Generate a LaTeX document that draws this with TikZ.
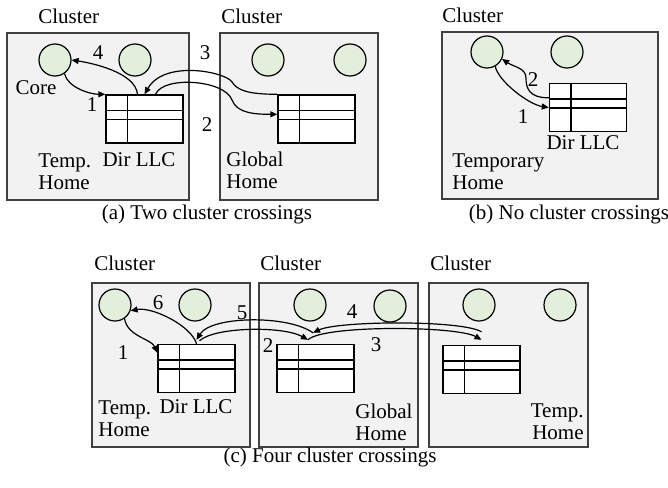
\documentclass[tikz,border=0pt]{standalone}
\usepackage{fontspec}
\setmainfont{Liberation Serif}
\usepackage{tikz}
\usetikzlibrary{positioning, arrows.meta}

\definecolor{boxfill}{HTML}{F2F2F2}
\definecolor{boxline}{HTML}{404040}
\definecolor{corefill}{HTML}{E2EFDA}

\tikzset{
  cluster/.style={draw=boxline, fill=boxfill, line width=0.6pt, inner sep=0pt},
  core/.style={circle, draw, fill=corefill, minimum size=16pt, inner sep=0pt, line width=0.6pt},
  dirbox/.style={draw, fill=white, minimum width=38.5pt, minimum height=24pt, inner sep=0pt, line width=0.7pt},
  msg/.style={-{Triangle[length=3.5pt,width=3pt]}, line width=0.6pt},
  lbl/.style={inner sep=0pt, font=\fontsize{10.5}{11}\selectfont}
}

% directory table with its rows and columns
\newcommand{\dirtable}[2]{%
  \node[dirbox] (#1) at (#2) {};
  \draw[line width=0.7pt] ([xshift=11pt]#1.north west) -- ([xshift=11pt]#1.south west);
  \draw[line width=0.7pt] ([yshift=-8pt]#1.north west) -- ([yshift=-8pt]#1.north east);
  \draw[line width=0.7pt] ([yshift=-12.5pt]#1.north west) -- ([yshift=-12.5pt]#1.north east);
}

\begin{document}
\begin{tikzpicture}[x=0.5pt, y=-0.5pt]
    \useasboundingbox (0,0) rectangle (668,487);

    % (a) the cluster boxes
    \node[cluster, minimum width=91pt, minimum height=83.5pt] (clA1) at (98,116.5) {};
    \node[cluster, minimum width=79pt, minimum height=83.5pt] (clA2) at (299,116.5) {};
    \node[lbl, anchor=west] (tlA1) at (38,16) {Cluster};
    \node[lbl, anchor=west] (tlA2) at (221,16) {Cluster};

    % cores
    \node[core] (cA1) at (55,60) {};
    \node[core] (cA2) at (135,60) {};
    \node[core] (cA3) at (268,60) {};
    \node[core] (cA4) at (350,60) {};

    % tables
    \dirtable{tA1}{144.5,119}
    \dirtable{tA2}{316.5,119}

    % labels
    \node[lbl] (coreA) at (36,88) {Core};
    \node[lbl] (dirA) at (139,160) {Dir LLC};
    \node[lbl, anchor=west, align=left] (homeA1) at (38,172) {Temp.\\Home};
    \node[lbl, anchor=west, align=left] (homeA2) at (226,170) {Global\\Home};
    \node[lbl] (nA1) at (92,105) {1};
    \node[lbl] (nA2) at (207,125) {2};
    \node[lbl] (nA3) at (205,53) {3};
    \node[lbl] (nA4) at (98,53) {4};

    % messages
    \draw[msg] (cA1.-55) .. controls +(3,14) and +(-15,0) .. (tA1.north west);
    \draw[msg] ([xshift=5.5pt]tA1.north) .. controls +(8,-19) and +(-7,-20) .. (232,100)
               .. controls +(5,14) and +(-20,0) .. ([yshift=-10pt]tA2.north west);
    \draw[msg] (tA2.north west) .. controls +(-30,0) and +(5,8) .. (232,82)
               .. controls +(-6,-10) and +(20,-35) .. (tA1.north);
    \draw[msg] ([xshift=-3.5pt]tA1.north) .. controls +(-2,-22) and +(20,3) .. (cA1.east);

    \node[lbl] (capA) at (207,214) {(a) Two cluster crossings};

    % (b) one cluster
    \node[cluster, minimum width=108pt, minimum height=83.5pt] (clB) at (550,115.5) {};
    \node[lbl, anchor=west] (tlB) at (442,15) {Cluster};
    \node[core] (cB1) at (487,52) {};
    \node[core] (cB2) at (567,52) {};
    \dirtable{tB}{588,107.5}
    \node[lbl] (dirB) at (583,143) {Dir LLC};
    \node[lbl, anchor=west, align=left] (homeB) at (452,172) {Temporary\\Home};
    \node[lbl] (nB1) at (523,117) {1};
    \node[lbl] (nB2) at (533,80) {2};

    \draw[msg] (cB1.-60) .. controls +(3,15) and +(-20,-3) .. (tB.west);
    \draw[msg] ([yshift=-7.5pt]tB.north west) .. controls +(-20,0) and +(0,10) .. (526,78)
               .. controls +(0,-10) and +(12,8) .. (cB1.-25);

    \node[lbl] (capB) at (569,214) {(b) No cluster crossings};

    % (c) three clusters
    \node[cluster, minimum width=79pt, minimum height=82pt] (clC1) at (171,365) {};
    \node[cluster, minimum width=79.5pt, minimum height=82pt] (clC2) at (338.5,365) {};
    \node[cluster, minimum width=79.5pt, minimum height=82pt] (clC3) at (508.5,365) {};
    \node[lbl, anchor=west] (tlC1) at (94,263) {Cluster};
    \node[lbl, anchor=west] (tlC2) at (260,263) {Cluster};
    \node[lbl, anchor=west] (tlC3) at (430,263) {Cluster};

    \node[core] (cC1) at (115,305) {};
    \node[core] (cC2) at (195,305) {};
    \node[core] (cC3) at (310,305) {};
    \node[core] (cC4) at (390,306) {};
    \node[core] (cC5) at (479,305) {};
    \node[core] (cC6) at (560,305) {};

    \dirtable{tC1}{196.5,368.5}
    \dirtable{tC2}{315.5,368.5}
    \dirtable{tC3}{481.5,369.5}

    \node[lbl] (dirC) at (196,407) {Dir LLC};
    \node[lbl, anchor=west, align=left] (homeC1) at (98,419) {Temp.\\Home};
    \node[lbl, anchor=west, align=left] (homeC2) at (355,422) {Global\\Home};
    \node[lbl, anchor=east, align=right] (homeC3) at (584,422) {Temp.\\Home};
    \node[lbl] (nC1) at (123,353) {1};
    \node[lbl] (nC2) at (268,346) {2};
    \node[lbl] (nC3) at (376,345) {3};
    \node[lbl] (nC4) at (352,312) {4};
    \node[lbl] (nC5) at (242,313) {5};
    \node[lbl] (nC6) at (158,303) {6};

    \coordinate (lowC2) at ([xshift=-3.75pt,yshift=2pt]tC2.north);
    \coordinate (upC2) at ([xshift=-1.25pt,yshift=5.5pt]tC2.north);

    \draw[msg] (cC1.-55) .. controls +(3,18) and +(-6,-14) .. ([yshift=-4.5pt]tC1.north west);
    \draw[msg] ([xshift=1.5pt,yshift=1.5pt]tC1.north) .. controls +(15,-14) and +(-25,-14) .. (lowC2);
    \draw[msg] (lowC2) .. controls +(15,-15) and +(-25,-14) .. ([yshift=2.5pt]tC3.north);
    \draw[msg] ([yshift=6.5pt]tC3.north) .. controls +(-20,-12) and +(25,-12) .. (upC2);
    \draw[msg] (upC2) .. controls +(-25,-18) and +(15,-24) .. ([yshift=2pt]tC1.north);
    \draw[msg] (tC1.north) .. controls +(-5,-18) and +(22,-4) .. (cC1.-20);

    \node[lbl] (capC) at (330,457) {(c) Four cluster crossings};

  \end{tikzpicture}
\end{document}
